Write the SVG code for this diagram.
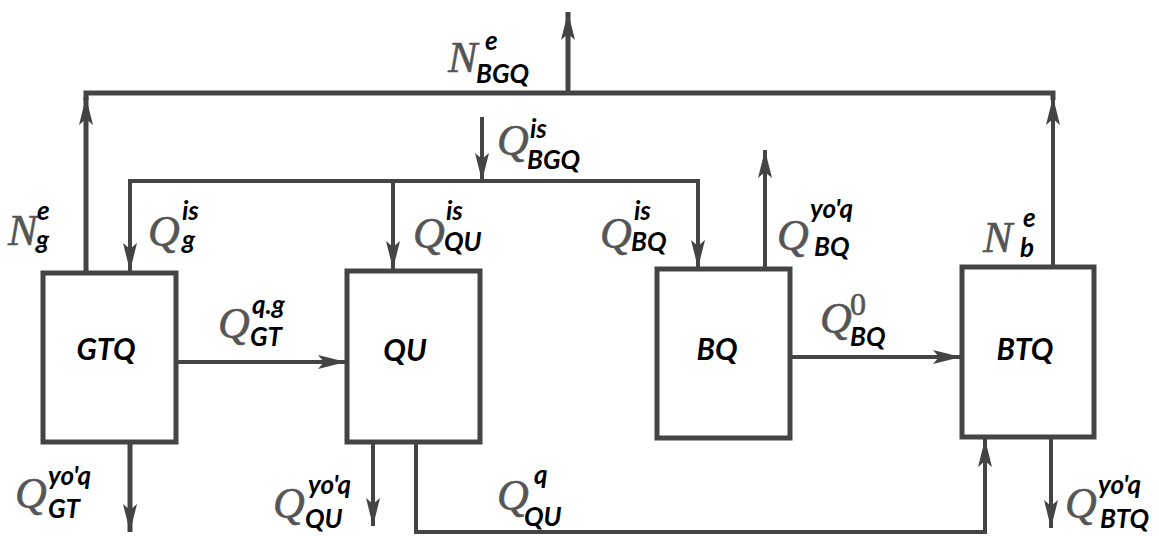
<svg xmlns="http://www.w3.org/2000/svg" width="1159" height="536" viewBox="0 0 1159 536">
<defs>
<style>
.box{fill:#fff;stroke:#444;stroke-width:5}
.ln{fill:none;stroke:#444;stroke-width:4}
.lh{fill:none;stroke:#444;stroke-width:5}
.big{font-family:"Liberation Serif",serif;font-style:italic;font-size:44px;fill:#555;stroke:#555;stroke-width:0.6}
.sm{font-family:Lato,"Liberation Sans",sans-serif;font-style:italic;font-weight:bold;font-size:26px;fill:#000;stroke:none}
.zero{font-family:"Liberation Serif",serif;font-style:normal;font-size:32px;fill:#555}
.lab{font-family:Lato,"Liberation Sans",sans-serif;font-style:italic;font-weight:bold;font-size:30px;fill:#000}
</style>
<marker id="ah" markerUnits="userSpaceOnUse" markerWidth="28" markerHeight="16" viewBox="0 0 28 16" refX="28" refY="8" orient="auto">
<path d="M0,1 L28,8 L0,15 L6,8 Z" fill="#444"/>
</marker>
</defs>
<rect width="1159" height="536" fill="#fff"/>
<g id="connectors">
<path class="lh" d="M86,100 V93 H1053 V100"/>
<path class="lh" d="M86,273 V97" marker-end="url(#ah)"/>
<path class="ln" d="M1053,267 V97" marker-end="url(#ah)"/>
<path class="lh" d="M568,93 V12" marker-end="url(#ah)"/>
<path class="ln" d="M482,117 V181" marker-end="url(#ah)"/>
<path class="ln" d="M130,271 V181 H698 V268" marker-end="url(#ah)"/>
<path class="ln" d="M130,183 V271" marker-end="url(#ah)"/>
<path class="ln" d="M393,181 V269" marker-end="url(#ah)"/>
<path class="ln" d="M765,269 V150" marker-end="url(#ah)"/>
<path class="ln" d="M176,362 H346" marker-end="url(#ah)"/>
<path class="ln" d="M790,357 H961" marker-end="url(#ah)"/>
<path class="lh" d="M130,442 V532" marker-end="url(#ah)"/>
<path class="ln" d="M373,442 V526" marker-end="url(#ah)"/>
<path class="ln" d="M416,442 V532 H985 V439" marker-end="url(#ah)"/>
<path class="ln" d="M1051,437 V528" marker-end="url(#ah)"/>
</g>
<g id="GTQ"><rect class="box" x="43" y="273" width="133" height="169"/><text class="lab" x="106" y="360" text-anchor="middle">GTQ</text></g>
<g id="QU"><rect class="box" x="347" y="271" width="133" height="171"/><text class="lab" x="405" y="361" text-anchor="middle">QU</text></g>
<g id="BQ"><rect class="box" x="657" y="269" width="133" height="169"/><text class="lab" x="717" y="360" text-anchor="middle">BQ</text></g>
<g id="BTQ"><rect class="box" x="962" y="267" width="132" height="170"/><text class="lab" x="1025" y="360" text-anchor="middle">BTQ</text></g>
<g id="labels">
<text class="big" x="448" y="72">N<tspan class="sm" x="485" y="50">e</tspan><tspan class="sm" x="476" y="83">BGQ</tspan></text>
<text class="big" x="497" y="155">Q<tspan class="sm" x="530" y="138">is</tspan><tspan class="sm" x="527" y="169">BGQ</tspan></text>
<text class="big" x="8" y="245">N<tspan class="sm" x="37" y="220">e</tspan><tspan class="sm" x="36" y="249">g</tspan></text>
<text class="big" x="148" y="246">Q<tspan class="sm" x="182" y="220">is</tspan><tspan class="sm" x="182" y="249">g</tspan></text>
<text class="big" x="413" y="248">Q<tspan class="sm" x="446" y="220">is</tspan><tspan class="sm" x="444" y="251">QU</tspan></text>
<text class="big" x="600" y="248">Q<tspan class="sm" x="634" y="220">is</tspan><tspan class="sm" x="631" y="251">BQ</tspan></text>
<text class="big" x="777" y="250">Q<tspan class="sm" x="810" y="218">yo'q</tspan><tspan class="sm" x="814" y="256">BQ</tspan></text>
<text class="big" x="983" y="252">N<tspan class="sm" x="1023" y="227">e</tspan><tspan class="sm" x="1020" y="257">b</tspan></text>
<text class="big" x="218" y="338">Q<tspan class="sm" x="252" y="314">q.g</tspan><tspan class="sm" x="250" y="346">GT</tspan></text>
<text class="big" x="820" y="333">Q<tspan class="zero" x="850" y="315">0</tspan><tspan class="sm" x="850" y="346">BQ</tspan></text>
<text class="big" x="15" y="508">Q<tspan class="sm" x="48" y="485">yo'q</tspan><tspan class="sm" x="48" y="518">GT</tspan></text>
<text class="big" x="273" y="518">Q<tspan class="sm" x="308" y="494">yo'q</tspan><tspan class="sm" x="305" y="528">QU</tspan></text>
<text class="big" x="497" y="510">Q<tspan class="sm" x="534" y="484">q</tspan><tspan class="sm" x="524" y="526">QU</tspan></text>
<text class="big" x="1065" y="518">Q<tspan class="sm" x="1098" y="494">yo'q</tspan><tspan class="sm" x="1100" y="528">BTQ</tspan></text>
</g>
</svg>
